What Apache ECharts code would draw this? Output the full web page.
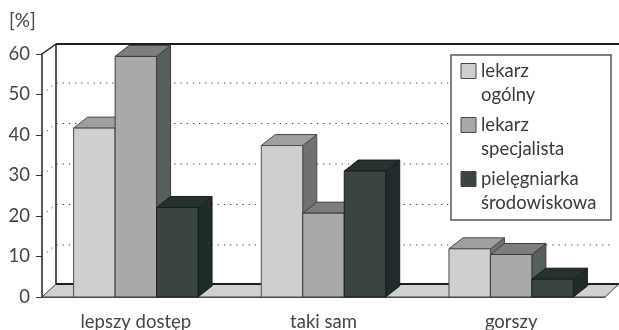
<!DOCTYPE html>
<html>
<head>
<meta charset="utf-8">
<style>html,body{margin:0;padding:0;background:#fff}#chart{width:619px;height:330px}</style>
<script src="https://cdn.jsdelivr.net/npm/echarts@6/dist/echarts.min.js"></script>
</head>
<body>
<div id="chart"></div>
<script>
const categories = ['lepszy dostęp', 'taki sam', 'gorszy'];
const lekarzOgolny = [41.7, 37.4, 11.9];
const lekarzSpecjalista = [59.4, 20.7, 10.5];
const pielegniarka = [22.1, 31.1, 4.4];
const gridValues = [10, 20, 30, 40, 50];

const seriesNames = ['lekarz\nogólny', 'lekarz\nspecjalista', 'pielęgniarka\nśrodowiskowa'];
const seriesValues = [lekarzOgolny, lekarzSpecjalista, pielegniarka];
// front, top and side faces of each column, plus its outline
const faces = [
  { front: '#cecfcf', top: '#9e9f9f', side: '#6f7271', line: '#4a4a4a' },
  { front: '#a8aaa9', top: '#7c7e7e', side: '#565f5d', line: '#3c3c3c' },
  { front: '#3c4544', top: '#263130', side: '#1f2a2a', line: '#1c1c1c' }
];

const FONT = 'Lato';
const DEPTH_X = 14;
const BAR_DEPTH_Y = -11;
const BAR_RATIO = 0.221;

// Column with an oblique top and side, offset within its category band
function columnRenderer(index) {
  const f = faces[index];
  return function (params, api) {
    const base = api.coord([api.value(0), 0]);
    const tip = api.coord([api.value(0), api.value(1)]);
    const w = api.size([1, 0])[0] * BAR_RATIO;
    const x0 = base[0] + (index - 1.5) * w;
    const x1 = x0 + w;
    const y0 = tip[1];
    const y1 = base[1];
    const stroke = { stroke: f.line, lineWidth: 1 };
    return {
      type: 'group',
      children: [
        { type: 'polygon', shape: { points: [[x1, y0], [x1 + DEPTH_X, y0 + BAR_DEPTH_Y], [x1 + DEPTH_X, y1 + BAR_DEPTH_Y], [x1, y1]] }, style: { fill: f.side, ...stroke } },
        { type: 'polygon', shape: { points: [[x0, y0], [x0 + DEPTH_X, y0 + BAR_DEPTH_Y], [x1 + DEPTH_X, y0 + BAR_DEPTH_Y], [x1, y0]] }, style: { fill: f.top, ...stroke } },
        { type: 'rect', shape: { x: x0, y: y0, width: w, height: y1 - y0 }, style: { fill: f.front, ...stroke } }
      ]
    };
  };
}

// Floor, back wall edges and the dotted gridlines behind the columns
function wallRenderer(params, api) {
  const sys = params.coordSys;
  const left = sys.x, right = sys.x + sys.width, top = sys.y, bottom = sys.y + sys.height;
  const children = [
    { type: 'polygon', shape: { points: [[left, bottom], [left + DEPTH_X, bottom - 13], [right + DEPTH_X, bottom - 13], [right, bottom]] }, style: { fill: '#cfd0d0', stroke: '#3a3a3a', lineWidth: 1 } },
    { type: 'line', shape: { x1: left + DEPTH_X, y1: bottom - 13, x2: right + DEPTH_X, y2: bottom - 13 }, style: { stroke: '#1e1e1e', lineWidth: 2 } },
    { type: 'line', shape: { x1: left + DEPTH_X, y1: bottom - 13, x2: left + DEPTH_X, y2: top - 10 }, style: { stroke: '#1e1e1e', lineWidth: 1.5 } },
    { type: 'line', shape: { x1: left + DEPTH_X, y1: top - 10, x2: right + DEPTH_X, y2: top - 10 }, style: { stroke: '#1e1e1e', lineWidth: 2 } },
    { type: 'line', shape: { x1: left, y1: top, x2: left + DEPTH_X, y2: top - 10 }, style: { stroke: '#1e1e1e', lineWidth: 1.5 } }
  ];
  gridValues.forEach(function (v) {
    const y = api.coord([0, v])[1];
    children.push({
      type: 'polyline',
      shape: { points: [[left, y], [left + DEPTH_X, y - 11.5], [right + DEPTH_X - 6, y - 11.5]] },
      style: { stroke: '#333', lineWidth: 1, lineDash: [1.2, 5], fill: null }
    });
  });
  return { type: 'group', children: children };
}

const chart = echarts.init(document.getElementById('chart'), null, { renderer: 'canvas' });

chart.setOption({
  animation: false,
  backgroundColor: '#fff',
  grid: { left: 42, right: 14, top: 54, bottom: 33, outerBoundsMode: 'none' },
  xAxis: {
    type: 'category',
    data: categories,
    axisLine: { lineStyle: { color: '#222', width: 1.5 } },
    axisTick: { length: 5, lineStyle: { color: '#333' } },
    axisLabel: { fontFamily: FONT, fontSize: 18.5, color: '#444', margin: 16 }
  },
  yAxis: {
    type: 'value',
    min: 0,
    max: 60,
    interval: 10,
    name: '[%]',
    nameLocation: 'end',
    nameGap: 24,
    nameTextStyle: { fontFamily: FONT, fontSize: 19, color: '#444', align: 'left', padding: [0, 0, 0, -33] },
    splitLine: { show: false },
    axisLine: { show: true, lineStyle: { color: '#222', width: 1.5 } },
    axisTick: { show: true, length: 6, lineStyle: { color: '#333' } },
    axisLabel: { fontFamily: FONT, fontSize: 18.5, color: '#444', margin: 12 }
  },
  legend: {
    orient: 'vertical',
    left: 460.5,
    top: 35,
    padding: 0,
    z: 10,
    icon: 'rect',
    itemWidth: 15,
    itemHeight: 15,
    itemGap: -18,
    selectedMode: false,
    data: seriesNames,
    // a blank first line puts the name's first line level with the swatch
    formatter: function (name) { return ' \n' + name; },
    itemStyle: { borderColor: '#444', borderWidth: 1 },
    textStyle: { fontFamily: FONT, fontSize: 18.5, lineHeight: 24, color: '#3a3a3a' }
  },
  graphic: [{
    type: 'rect',
    z: 5,
    shape: { x: 451, y: 55, width: 160, height: 165 },
    style: { fill: '#fff', stroke: '#555', lineWidth: 1.5 }
  }],
  series: [
    {
      type: 'custom',
      z: 1,
      silent: true,
      renderItem: wallRenderer,
      data: [[0, 0]],
      encode: { x: 0, y: 1 }
    }
  ].concat(seriesValues.map(function (values, i) {
    return {
      type: 'custom',
      name: seriesNames[i],
      z: 2,
      itemStyle: { color: faces[i].front },
      renderItem: columnRenderer(i),
      data: values.map(function (v, c) { return [c, v]; }),
      encode: { x: 0, y: 1 }
    };
  }))
});
</script>
</body>
</html>
